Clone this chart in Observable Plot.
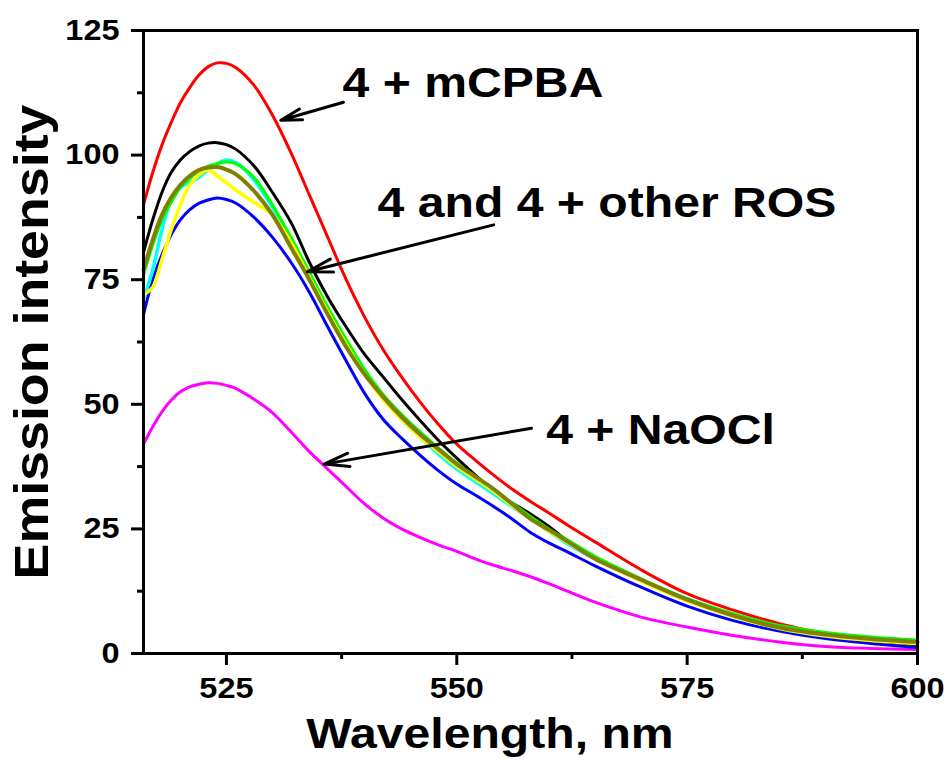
<!DOCTYPE html>
<html>
<head>
<meta charset="utf-8">
<script src="https://cdn.jsdelivr.net/npm/d3@7"></script>
<script src="https://cdn.jsdelivr.net/npm/@observablehq/plot@0.6"></script>
<style>
  html, body { margin: 0; padding: 0; background: #ffffff; }
  #chart { width: 948px; height: 761px; }
</style>
</head>
<body>
<div id="chart"></div>
<script>
// Emission spectra of probe 4 alone and with various reactive oxygen species
const wavelength = [516,517,518,519,520,521,522,523,524,525,526,528,530,532,534,536,538,540,542,544,546,548,550,552,554,556,558,560,562,565,570,575,580,585,590,595,600];

const mcpba   = [90,96.5,102,106.5,110.5,113.5,116,117.7,118.5,118.4,117.6,114,108,100.5,92,83.5,75,67.5,61,55.5,50.5,46,42,38.8,35.8,33,30.5,28.2,25.8,22.4,16.8,12,8.7,6,4,2.7,1.8];
const black   = [80.5,87,92.5,96.5,99,100.7,101.8,102.4,102.5,102.1,101.2,97.8,92.5,86.5,78.5,71.5,65.5,60,55.5,51,46.8,42.8,39.2,35.8,32.6,30.2,28,25.5,22.6,19.3,14.8,10.8,7.6,5.2,3.6,2.6,1.8];
const blue    = [68,75,80,84,87,89,90.3,91,91.4,91.1,90.4,87.5,83.5,78.5,72.5,65.5,58.7,52.2,47,43.2,39.8,36.7,34,31.8,29.5,27,24.3,22.2,20.4,17.6,13.3,9.5,6.6,4.5,3,2,1.2];
const naocl   = [42,45.5,48.5,50.8,52.5,53.5,54,54.3,54.2,53.8,53.2,51,48.3,44.5,40.5,37,33.5,30,27.2,25,23.3,21.8,20.5,19,17.7,16.6,15.4,14,12.5,10.3,7.3,5.3,3.6,2.3,1.4,1,0.8];
const cyan    = [71,77,85,91,93.5,94.5,95.5,97,98.2,99,98.5,95,89.5,83,76,69,62.5,56.5,51.5,47,43.5,40,37,34.5,32,29.5,27,24.5,22,19,14.8,11,7.8,5.3,3.8,2.8,2.2];
const green   = [76,82,87,90.5,93.5,95.3,96.8,97.8,98.3,98.6,98.3,95.5,90,83.5,76.5,69.5,63,57,52,48,44.5,41.2,38.2,35.5,33,30.2,27.5,25,22.8,19.5,15,11,8,5.6,4.2,3.3,2.7];
const yellow  = [72,73.5,79,85,90,94,96,97,95.8,94.5,93,90.5,88,82.5,75.5,68.5,62,56,51,47,43.5,40.5,37.5,35,32.5,29.7,27,24.5,22.3,19,14.5,10.5,7.4,5,3.5,2.6,2];
const olive   = [77,83,88,91.5,94,95.8,97,97.5,97.6,97.1,96.2,92.8,88,81.5,75,68,61.5,56,51.5,47.5,44,41,38,35.5,33,30,27,24.8,22.5,19,14.8,10.8,7.6,5.2,3.8,2.9,2.3];

// Drawing order: first entries lie underneath
const seriesList = [
  {name: "4 + NaOCl", color: "#ff00ff", values: naocl,  width: 3},
  {name: "blue",      color: "#0000ff", values: blue,   width: 3},
  {name: "4 + mCPBA", color: "#ff0000", values: mcpba,  width: 3},
  {name: "black",     color: "#000000", values: black,  width: 3},
  {name: "cyan",      color: "#00ffff", values: cyan,   width: 3.5},
  {name: "green",     color: "#00ff00", values: green,  width: 3},
  {name: "yellow",    color: "#ffff00", values: yellow, width: 3.5},
  {name: "olive",     color: "#808000", values: olive,  width: 4}
];

const xMajor = [525, 550, 575, 600];
const xMinor = [537.5, 562.5, 587.5];
const yMajor = [0, 25, 50, 75, 100, 125];
const yMinor = [12.5, 37.5, 62.5, 87.5, 112.5];

// Annotation labels and their arrows (data coordinates)
const labelText = ["4 + mCPBA", "4 and 4 + other ROS", "4 + NaOCl"];
const labelX = [537.6, 541.4, 559.7];
const labelY = [114.4, 90.4, 44.8];
const arrowFromX = [537.7, 554.0, 558.1];
const arrowFromY = [110.6, 86.0, 45.2];
const arrowToX = [530.9, 533.8, 535.6];
const arrowToY = [107.0, 76.6, 38.0];

const labels = labelText.map((t, i) => ({text: t, x: labelX[i], y: labelY[i]}));
const arrows = arrowFromX.map((x, i) => ({x1: x, y1: arrowFromY[i], x2: arrowToX[i], y2: arrowToY[i]}));

const font = "'Liberation Sans', Arial, Helvetica, sans-serif";
// the lettering is a little wider than Arial: widen glyphs along the text direction
const glyphWiden = 1.12;

const lineMarks = seriesList.map(s =>
  Plot.line(wavelength.map((w, i) => ({w, v: s.values[i]})), {
    x: "w", y: "v", stroke: s.color, strokeWidth: s.width, curve: "catmull-rom"
  })
);

const chart = Plot.plot({
  width: 948,
  height: 761,
  marginLeft: 143,
  marginRight: 31,
  marginTop: 30,
  marginBottom: 108,
  style: {fontFamily: font, fontWeight: "bold", background: "white", color: "black"},
  x: {domain: [516, 600]},
  y: {domain: [0, 125]},
  marks: [
    ...lineMarks,
    Plot.frame({stroke: "black", strokeWidth: 3}),
    Plot.axisX({ticks: xMajor, tickSize: 12, tickPadding: 12, strokeWidth: 3, fontSize: 29, fontWeight: "bold", label: null}),
    Plot.axisX({ticks: xMinor, tickSize: 6, tickFormat: () => "", strokeWidth: 3, label: null}),
    Plot.axisY({ticks: yMajor, tickSize: 12, tickPadding: 12, strokeWidth: 3, fontSize: 29, fontWeight: "bold", label: null}),
    Plot.axisY({ticks: yMinor, tickSize: 6, tickFormat: () => "", strokeWidth: 3, label: null}),
    Plot.text(["Wavelength, nm"], {x: 553.6, frameAnchor: "bottom", lineAnchor: "middle", textAnchor: "middle", dy: 81, fontSize: 43, fontWeight: "bold", fill: "black"}),
    Plot.text(["Emission intensity"], {frameAnchor: "left", lineAnchor: "middle", textAnchor: "middle", dx: -111, rotate: -90, fontSize: 48, fontWeight: "bold", fill: "black"}),
    Plot.arrow(arrows, {x1: "x1", y1: "y1", x2: "x2", y2: "y2", stroke: "black", strokeWidth: 3, headLength: 13, headAngle: 30}),
    Plot.text(labels, {x: "x", y: "y", text: "text", textAnchor: "start", lineAnchor: "middle", fontSize: 43, fontWeight: "bold", fill: "black"})
  ]
});

// widen every label about its own anchor point
chart.querySelectorAll("text").forEach(t => {
  const tr = t.getAttribute("transform") || "";
  t.setAttribute("transform", `${tr} scale(${glyphWiden},1)`.trim());
});

document.getElementById("chart").appendChild(chart);
</script>
</body>
</html>
